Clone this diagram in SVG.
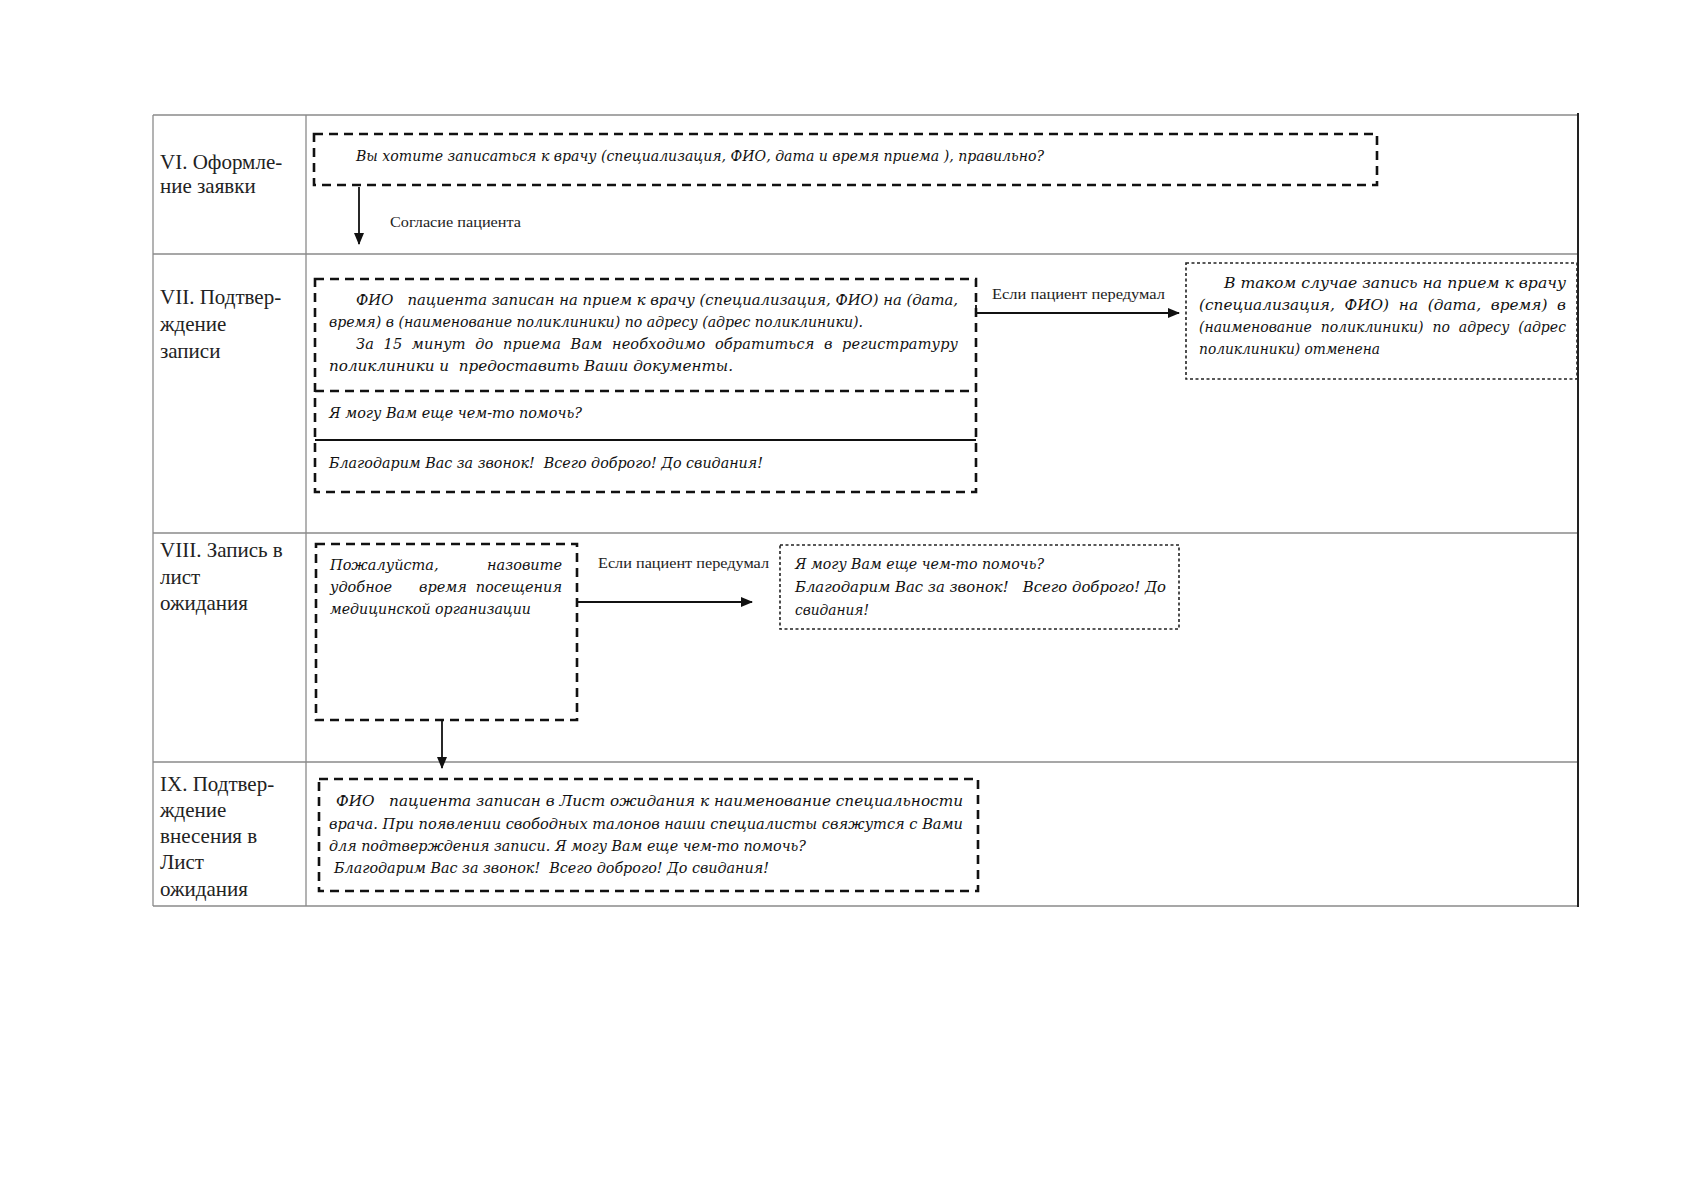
<svg xmlns="http://www.w3.org/2000/svg" width="1691" height="1200" viewBox="0 0 1691 1200">
<style>
.grid{stroke:#8a8a8a;stroke-width:1.3;fill:none}
.edge{stroke:#222;stroke-width:2;fill:none}
.dash{fill:none;stroke:#111;stroke-width:2.6;stroke-dasharray:9 6}
.dot{fill:none;stroke:#222;stroke-width:1.6;stroke-dasharray:3 2.5}
.lbl{font-family:"Liberation Serif","Times New Roman",serif;font-size:21px;fill:#222}
.it{font-family:"DejaVu Serif",serif;font-style:italic;font-size:14.5px;fill:#111;white-space:pre}
.cap{font-family:"Liberation Serif","Times New Roman",serif;font-size:15px;fill:#222;white-space:pre}
.conn{stroke:#111;stroke-width:1.8;fill:none}
</style>
<defs>
<marker id="ah" markerWidth="12" markerHeight="10" refX="11" refY="5" orient="auto" markerUnits="userSpaceOnUse">
<path d="M0,0 L12,5 L0,10 Z" fill="#111"/>
</marker>
</defs>
<rect width="1691" height="1200" fill="#fff"/>

<g id="table">
<line class="grid" x1="153" y1="115" x2="1578" y2="115"/>
<line class="grid" x1="153" y1="115" x2="153" y2="906"/>
<line class="grid" x1="306" y1="115" x2="306" y2="906"/>
<line class="grid" x1="153" y1="254" x2="1578" y2="254"/>
<line class="grid" x1="153" y1="533" x2="1578" y2="533"/>
<line class="grid" x1="153" y1="762" x2="1578" y2="762"/>
<line class="grid" x1="153" y1="906" x2="1578" y2="906"/>
<line class="edge" x1="1578" y1="113" x2="1578" y2="907"/>
</g>

<g id="row-labels">
<text class="lbl" x="160" y="169">VI. Оформле-</text>
<text class="lbl" x="160" y="193">ние заявки</text>
<text class="lbl" x="160" y="304">VII. Подтвер-</text>
<text class="lbl" x="160" y="331">ждение</text>
<text class="lbl" x="160" y="358">записи</text>
<text class="lbl" x="160" y="557">VIII. Запись в</text>
<text class="lbl" x="160" y="584">лист</text>
<text class="lbl" x="160" y="610">ожидания</text>
<text class="lbl" x="160" y="791">IX. Подтвер-</text>
<text class="lbl" x="160" y="817">ждение</text>
<text class="lbl" x="160" y="843">внесения в</text>
<text class="lbl" x="160" y="869">Лист</text>
<text class="lbl" x="160" y="896">ожидания</text>
</g>

<g id="node-vi">
<rect class="dash" x="314" y="134" width="1063" height="51"/>
<text class="it" x="356" y="161" textLength="688" lengthAdjust="spacingAndGlyphs">Вы хотите записаться к врачу (специализация, ФИО, дата и время приема ), правильно?</text>
</g>

<g id="node-vii">
<rect class="dash" x="315" y="279" width="661" height="213"/>
<line class="dash" x1="315" y1="391" x2="976" y2="391"/>
<line stroke="#111" stroke-width="2.2" x1="315" y1="440" x2="976" y2="440"/>
<text class="it" x="356" y="305" textLength="602" lengthAdjust="spacingAndGlyphs">ФИО   пациента записан на прием к врачу (специализация, ФИО) на (дата,</text>
<text class="it" x="329" y="327" textLength="534" lengthAdjust="spacingAndGlyphs">время) в (наименование поликлиники) по адресу (адрес поликлиники).</text>
<text class="it" x="356" y="349" textLength="602" lengthAdjust="spacing">За  15  минут  до  приема  Вам  необходимо  обратиться  в  регистратуру</text>
<text class="it" x="329" y="371" textLength="404" lengthAdjust="spacingAndGlyphs">поликлиники и  предоставить Ваши документы.</text>
<text class="it" x="329" y="418" textLength="253" lengthAdjust="spacingAndGlyphs">Я могу Вам еще чем-то помочь?</text>
<text class="it" x="329" y="468" textLength="434" lengthAdjust="spacingAndGlyphs">Благодарим Вас за звонок!  Всего доброго! До свидания!</text>
</g>

<g id="node-vii-cancel">
<rect class="dot" x="1186" y="263" width="391" height="116"/>
<text class="it" x="1224" y="288" textLength="342" lengthAdjust="spacingAndGlyphs">В таком случае запись на прием к врачу</text>
<text class="it" x="1199" y="310" textLength="367" lengthAdjust="spacingAndGlyphs">(специализация,  ФИО)  на  (дата,  время)  в</text>
<text class="it" x="1199" y="332" textLength="367" lengthAdjust="spacingAndGlyphs">(наименование  поликлиники)  по  адресу  (адрес</text>
<text class="it" x="1199" y="354" textLength="181" lengthAdjust="spacingAndGlyphs">поликлиники) отменена</text>
</g>

<g id="node-viii">
<rect class="dash" x="316" y="544" width="261" height="176"/>
<text class="it" x="330" y="570">Пожалуйста,</text>
<text class="it" x="562" y="570" text-anchor="end">назовите</text>
<text class="it" x="330" y="592">удобное</text>
<text class="it" x="443" y="592" text-anchor="middle">время</text>
<text class="it" x="562" y="592" text-anchor="end">посещения</text>
<text class="it" x="330" y="614" textLength="201" lengthAdjust="spacingAndGlyphs">медицинской организации</text>
</g>

<g id="node-viii-end">
<rect class="dot" x="780" y="545" width="399" height="84"/>
<text class="it" x="795" y="569" textLength="249" lengthAdjust="spacingAndGlyphs">Я могу Вам еще чем-то помочь?</text>
<text class="it" x="795" y="592" textLength="371" lengthAdjust="spacingAndGlyphs">Благодарим Вас за звонок!   Всего доброго! До</text>
<text class="it" x="795" y="615" textLength="74" lengthAdjust="spacingAndGlyphs">свидания!</text>
</g>

<g id="node-ix">
<rect class="dash" x="319" y="779" width="659" height="112"/>
<text class="it" x="336" y="806" textLength="627" lengthAdjust="spacingAndGlyphs">ФИО   пациента записан в Лист ожидания к наименование специальности</text>
<text class="it" x="329" y="829" textLength="634" lengthAdjust="spacingAndGlyphs">врача. При появлении свободных талонов наши специалисты свяжутся с Вами</text>
<text class="it" x="329" y="851" textLength="477" lengthAdjust="spacingAndGlyphs">для подтверждения записи. Я могу Вам еще чем-то помочь?</text>
<text class="it" x="334" y="873" textLength="435" lengthAdjust="spacingAndGlyphs">Благодарим Вас за звонок!  Всего доброго! До свидания!</text>
</g>

<g id="connectors">
<line class="conn" x1="359" y1="187" x2="359" y2="244" marker-end="url(#ah)"/>
<text class="cap" x="390" y="227" textLength="131" lengthAdjust="spacingAndGlyphs">Согласие пациента</text>
<polyline class="conn" points="976,305 976,313 1179,313" marker-end="url(#ah)"/>
<text class="cap" x="992" y="299" textLength="173" lengthAdjust="spacingAndGlyphs">Если пациент передумал</text>
<line class="conn" x1="577" y1="602" x2="752" y2="602" marker-end="url(#ah)"/>
<text class="cap" x="598" y="568" textLength="171" lengthAdjust="spacingAndGlyphs">Если пациент передумал</text>
<line class="conn" x1="442" y1="720" x2="442" y2="768" marker-end="url(#ah)"/>
</g>
</svg>
